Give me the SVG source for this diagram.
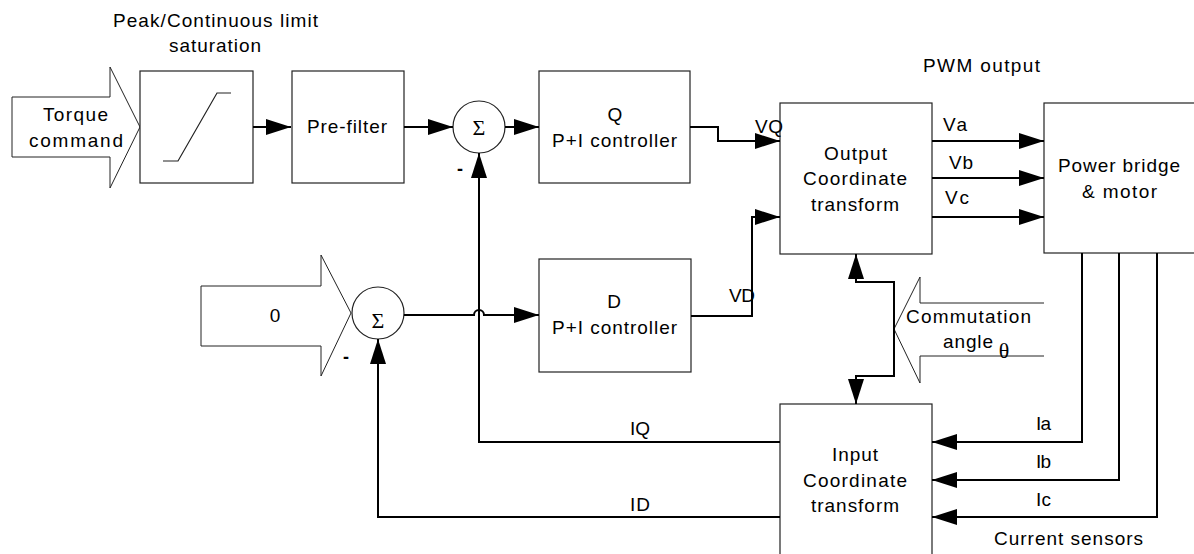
<svg xmlns="http://www.w3.org/2000/svg" width="1194" height="554" viewBox="0 0 1194 554">
<style>
.box{fill:#fff;stroke:#222;stroke-width:1.2}
.blk{fill:#fff;stroke:#222;stroke-width:1}
.ln{fill:none;stroke:#000;stroke-width:2}
.t{font-family:"Liberation Sans",Arial,sans-serif;font-size:19px;fill:#000}
.s{font-family:"Liberation Serif","Times New Roman",serif;font-size:22px;fill:#000}
.m{font-family:"Liberation Sans",Arial,sans-serif;font-size:18px;font-weight:bold;fill:#000}
</style>
<defs>
<marker id="ah" markerUnits="userSpaceOnUse" markerWidth="26" markerHeight="16" refX="25" refY="8" orient="auto-start-reverse" viewBox="0 0 26 16">
<path d="M0,0 L25,8 L0,16 z" fill="#000"/>
</marker>
</defs>
<rect width="1194" height="554" fill="#fff"/>

<g id="labels">
<text class="t" x="113" y="27" textLength="205">Peak/Continuous limit</text>
<text class="t" x="169" y="52" textLength="92">saturation</text>
<text class="t" x="923" y="72" textLength="117">PWM output</text>
<text class="t" x="994" y="545" textLength="149">Current sensors</text>
</g>

<g id="torque-command">
<polygon class="blk" points="12,97 110,97 110,67 140,127 110,188 110,157 12,157"/>
<text class="t" x="43" y="121" textLength="65">Torque</text>
<text class="t" x="29" y="147" textLength="94">command</text>
</g>

<g id="saturation">
<rect class="box" x="140" y="71" width="113" height="112"/>
<polyline fill="none" stroke="#222" stroke-width="1.2" points="163,161 178,161 217,93 231,93"/>
</g>

<g id="prefilter">
<rect class="box" x="292" y="71" width="112" height="112"/>
<text class="t" x="307" y="133" textLength="80">Pre-filter</text>
</g>

<g id="sum-q">
<circle class="box" cx="479" cy="127" r="26"/>
<text class="s" x="479" y="135" text-anchor="middle">Σ</text>
<text class="m" x="457" y="175">-</text>
</g>

<g id="q-controller">
<rect class="box" x="539" y="71" width="151" height="112"/>
<text class="t" x="615" y="121" text-anchor="middle">Q</text>
<text class="t" x="552" y="147" textLength="125">P+I controller</text>
</g>

<g id="zero-input">
<polygon class="blk" points="201,286 321,286 321,255 351,313 321,376 321,346 201,346"/>
<text class="t" x="275" y="322" text-anchor="middle">0</text>
</g>

<g id="sum-d">
<circle class="box" cx="378" cy="313" r="26"/>
<text class="s" x="378" y="328" text-anchor="middle">Σ</text>
<text class="m" x="343" y="363">-</text>
</g>

<g id="d-controller">
<rect class="box" x="539" y="259" width="152" height="113"/>
<text class="t" x="614" y="308" text-anchor="middle">D</text>
<text class="t" x="552" y="334" textLength="125">P+I controller</text>
</g>

<g id="output-transform">
<rect class="box" x="780" y="103" width="152" height="151"/>
<text class="t" x="824" y="160" textLength="63">Output</text>
<text class="t" x="803" y="185" textLength="104">Coordinate</text>
<text class="t" x="811" y="211" textLength="88">transform</text>
</g>

<g id="power-bridge">
<rect class="box" x="1044" y="103" width="200" height="150"/>
<text class="t" x="1058" y="172" textLength="122">Power bridge</text>
<text class="t" x="1082" y="198" textLength="75">&amp; motor</text>
</g>

<g id="commutation-angle">
<polyline class="blk" fill="none" points="1044,303 920,303 920,277 894,329 920,383 920,356 1044,356"/>
<text class="t" x="906" y="323" textLength="125">Commutation</text>
<text class="t" x="943" y="348" textLength="50">angle</text>
<text class="s" x="1004" y="358" text-anchor="middle" font-size="20">θ</text>
</g>

<g id="input-transform">
<rect class="box" x="780" y="404" width="152" height="170"/>
<text class="t" x="832" y="461" textLength="46">Input</text>
<text class="t" x="803" y="487" textLength="104">Coordinate</text>
<text class="t" x="811" y="512" textLength="88">transform</text>
</g>

<g id="connectors">
<path class="ln" d="M253,127 H291" marker-end="url(#ah)"/>
<path class="ln" d="M404,127 H453" marker-end="url(#ah)"/>
<path class="ln" d="M505,127 H539" marker-end="url(#ah)"/>
<path class="ln" d="M690,127 H718 V141 H780" marker-end="url(#ah)"/>
<path class="ln" d="M404,315 H474 A5,5 0 0 1 484,315 H539" marker-end="url(#ah)"/>
<path class="ln" d="M691,316 H752 V217 H780" marker-end="url(#ah)"/>
<path class="ln" d="M932,141 H1044" marker-end="url(#ah)"/>
<path class="ln" d="M932,178 H1044" marker-end="url(#ah)"/>
<path class="ln" d="M932,217 H1044" marker-end="url(#ah)"/>
<path class="ln" d="M856,254 V282 H894 V376 H856 V404" marker-start="url(#ah)" marker-end="url(#ah)"/>
<path class="ln" d="M1082,253 V442 H932" marker-end="url(#ah)"/>
<path class="ln" d="M1119,253 V480 H932" marker-end="url(#ah)"/>
<path class="ln" d="M1157,253 V517 H932" marker-end="url(#ah)"/>
<path class="ln" d="M780,442 H479 V153" marker-end="url(#ah)"/>
<path class="ln" d="M780,517 H378 V339" marker-end="url(#ah)"/>
<text class="t" x="755" y="133" textLength="28">VQ</text>
<text class="t" x="729" y="302" textLength="26">VD</text>
<text class="t" x="943" y="131" textLength="24">Va</text>
<text class="t" x="949" y="169" textLength="24">Vb</text>
<text class="t" x="945" y="204" textLength="24">Vc</text>
<text class="t" x="1036" y="430" textLength="15">Ia</text>
<text class="t" x="1036" y="468" textLength="15">Ib</text>
<text class="t" x="1036" y="506" textLength="15">Ic</text>
<text class="t" x="630" y="435" textLength="20">IQ</text>
<text class="t" x="630" y="511" textLength="20">ID</text>
</g>
</svg>
